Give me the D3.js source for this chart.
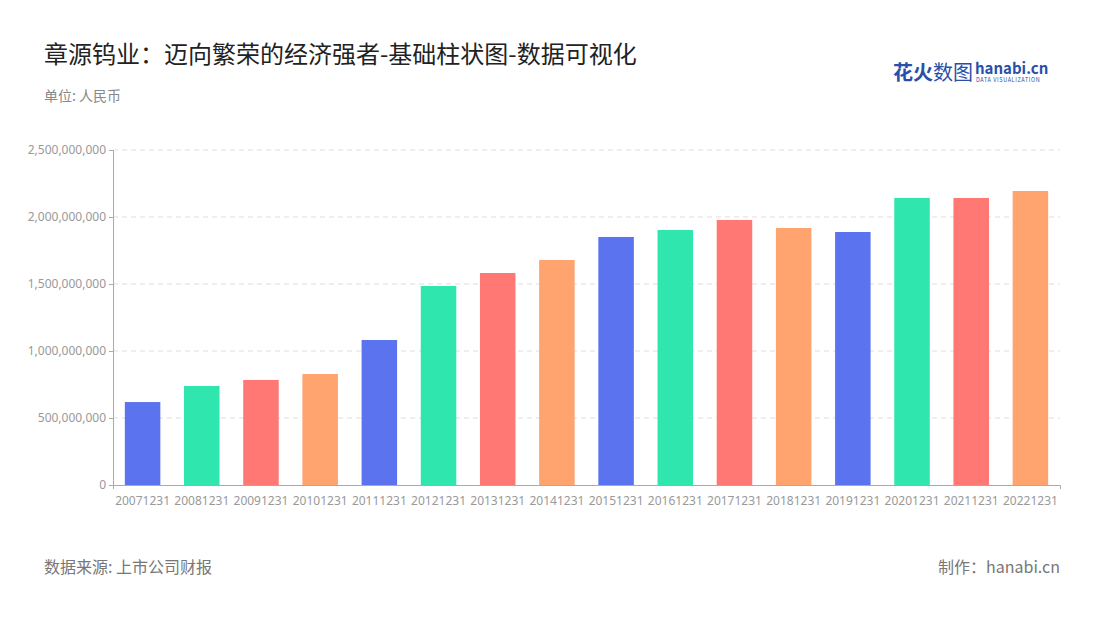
<!DOCTYPE html>
<html><head><meta charset="utf-8">
<script src="https://cdn.jsdelivr.net/npm/d3@7/dist/d3.min.js"></script>
<style>body{margin:0;background:#fff;font-family:"Noto Sans CJK SC","Noto Sans",sans-serif}</style>
</head><body>
<script>
var years = ["20071231","20081231","20091231","20101231","20111231","20121231","20131231","20141231",
  "20151231","20161231","20171231","20181231","20191231","20201231","20211231","20221231"];
var values = [619e6,739e6,784e6,828e6,1082e6,1485e6,1582e6,1679e6,1851e6,1903e6,1978e6,1918e6,1888e6,2142e6,2142e6,2194e6];
var yTicks = [0,500e6,1000e6,1500e6,2000e6,2500e6];
var colors = ["#5b73ee","#2ee6ae","#ff7873","#ffa36f"];

var svg = d3.select("body").append("svg").attr("width",1100).attr("height",620)

var x = d3.scaleBand().domain(years).range([113,1060]).paddingInner(0.4).paddingOuter(0.2)
var y = d3.scaleLinear().domain([0,2500e6]).range([485,150])

svg.append("text").attr("x",44).attr("y",63).attr("font-size",24).attr("fill","#222")
  .text("章源钨业：迈向繁荣的经济强者-基础柱状图-数据可视化")
svg.append("text").attr("x",44).attr("y",101).attr("font-size",14).attr("fill","#888")
  .text("单位: 人民币")

// logo
svg.append("text").attr("x",893).attr("y",80).attr("font-size",20).attr("font-weight","bold").attr("fill","#2a4fa8").text("花火")
svg.append("text").attr("x",933).attr("y",80).attr("font-size",20).attr("fill","#2a4fa8").text("数图")
svg.append("text").attr("x",975).attr("y",74).attr("font-size",15).attr("font-weight","bold").attr("fill","#2a4fa8").text("hanabi.cn")
svg.append("text").attr("x",976).attr("y",82).attr("font-size",5.5).attr("fill","#2a4fa8").attr("letter-spacing",0.6).text("DATA VISUALIZATION")

svg.append("g").selectAll("line").data(yTicks.slice(1)).join("line")
  .attr("x1",113).attr("x2",1060).attr("y1",d=>y(d)).attr("y2",d=>y(d))
  .attr("stroke","#ddd").attr("stroke-dasharray","5,4")

var ya = svg.append("g").attr("transform","translate(113,0)")
  .call(d3.axisLeft(y).tickValues(yTicks).tickFormat(d3.format(",")).tickSize(4))
ya.select(".domain").attr("stroke","#aaa")
ya.selectAll(".tick line").attr("stroke","#aaa")
ya.selectAll("text").attr("fill","#999").attr("font-size",12).attr("font-family","Noto Sans")

var xa = svg.append("g").attr("transform","translate(0,485)")
  .call(d3.axisBottom(x).tickSize(4))
xa.select(".domain").attr("stroke","#aaa")
xa.selectAll(".tick line").remove()
xa.selectAll("text").attr("fill","#999").attr("font-size",12).attr("font-family","Noto Sans").attr("dy","1.1em")

svg.append("g").selectAll("rect").data(values).join("rect")
  .attr("x",(d,i)=>x(years[i])).attr("width",x.bandwidth())
  .attr("y",d=>y(d)).attr("height",d=>485-y(d))
  .attr("fill",(d,i)=>colors[i%4])

svg.append("text").attr("x",44).attr("y",573).attr("font-size",16).attr("fill","#777").text("数据来源: 上市公司财报")
svg.append("text").attr("x",1060).attr("y",573).attr("font-size",16).attr("fill","#777").attr("text-anchor","end").text("制作：hanabi.cn")
</script>
</body></html>
